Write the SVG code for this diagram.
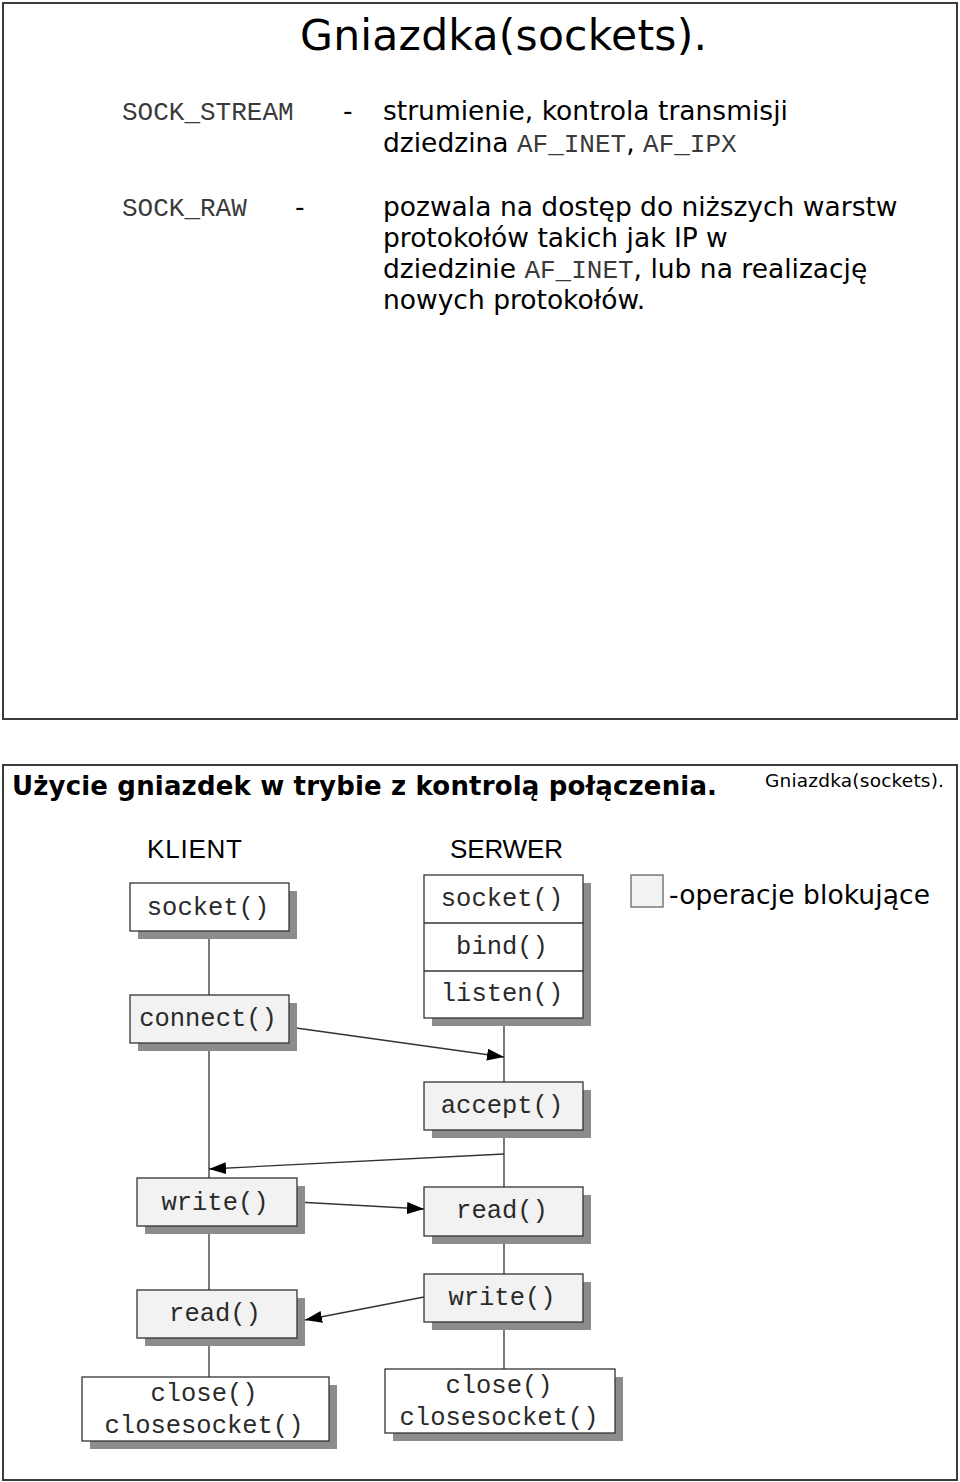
<svg xmlns="http://www.w3.org/2000/svg" width="960" height="1482" viewBox="0 0 960 1482">
<style>
.frame{fill:#fff;stroke:#3a3a3a;stroke-width:2}
.sans{font-family:"DejaVu Sans","Verdana",sans-serif;fill:#000}
.arial{font-family:"Liberation Sans",Arial,sans-serif;fill:#000}
.mono{font-family:"Liberation Mono","Courier New",monospace;fill:#3a3a3a}
.box{stroke:#333;stroke-width:1.3}
.w{fill:#fff}
.g{fill:#f2f2f2}
.sh{fill:#8c8c8c}
.ln{stroke:#333;stroke-width:1.3;fill:none}
.bt{font-family:"Liberation Mono","Courier New",monospace;font-size:25.5px;fill:#2a2a2a;text-anchor:middle}
</style>
<defs>
<marker id="ah" markerUnits="userSpaceOnUse" markerWidth="18" markerHeight="14" refX="17" refY="6" orient="auto">
<path d="M0,0 L17,6 L0,12 Z" fill="#000"/>
</marker>
</defs>

<rect class="frame" x="3" y="3" width="954" height="716"/>
<rect class="frame" x="3" y="765" width="954" height="715"/>

<g id="top-text">
<text class="sans" x="300" y="50" font-size="42.5" textLength="407">Gniazdka(sockets).</text>
<text class="mono" x="122" y="120" font-size="26">SOCK_STREAM</text>
<text class="sans" x="343" y="120" font-size="26.5">-</text>
<text class="sans" x="383" y="120" font-size="26.5">strumienie, kontrola transmisji</text>
<text class="sans" x="383" y="152" font-size="26.5">dziedzina <tspan class="mono" font-size="26">AF_INET</tspan>, <tspan class="mono" font-size="26">AF_IPX</tspan></text>
<text class="mono" x="122" y="216" font-size="26">SOCK_RAW</text>
<text class="sans" x="295" y="216" font-size="26.5">-</text>
<text class="sans" x="383" y="216" font-size="26.5">pozwala na dostęp do niższych warstw</text>
<text class="sans" x="383" y="247" font-size="26.5">protokołów takich jak IP w</text>
<text class="sans" x="383" y="278" font-size="26.5">dziedzinie <tspan class="mono" font-size="26">AF_INET</tspan>, lub na realizację</text>
<text class="sans" x="383" y="309" font-size="26.5">nowych protokołów.</text>
</g>

<g id="header">
<text class="sans" x="12" y="795" font-size="26" font-weight="bold" textLength="705">Użycie gniazdek w trybie z kontrolą połączenia.</text>
<text class="sans" x="765" y="787" font-size="18.5" textLength="179">Gniazdka(sockets).</text>
<text class="arial" x="147" y="858" font-size="26" textLength="95">KLIENT</text>
<text class="arial" x="450" y="858" font-size="26" textLength="113">SERWER</text>
</g>

<g id="legend">
<rect x="631" y="875" width="32" height="32" fill="#f2f2f2" stroke="#666" stroke-width="1.3"/>
<text class="sans" x="669" y="904" font-size="26.5" textLength="261">-operacje blokujące</text>
</g>

<g id="connectors">
<line class="ln" x1="209" y1="931" x2="209" y2="995"/>
<line class="ln" x1="209" y1="1043" x2="209" y2="1178"/>
<line class="ln" x1="209" y1="1226" x2="209" y2="1290"/>
<line class="ln" x1="209" y1="1338" x2="209" y2="1377"/>
<line class="ln" x1="504" y1="1018" x2="504" y2="1082"/>
<line class="ln" x1="504" y1="1130" x2="504" y2="1187"/>
<line class="ln" x1="504" y1="1236" x2="504" y2="1274"/>
<line class="ln" x1="504" y1="1322" x2="504" y2="1369"/>
<line class="ln" x1="289" y1="1027" x2="504" y2="1057" marker-end="url(#ah)"/>
<line class="ln" x1="504" y1="1154" x2="209" y2="1169" marker-end="url(#ah)"/>
<line class="ln" x1="297" y1="1202" x2="424" y2="1209" marker-end="url(#ah)"/>
<line class="ln" x1="424" y1="1297" x2="305" y2="1320" marker-end="url(#ah)"/>
</g>

<g id="client-socket">
<rect class="sh" x="138" y="891" width="159" height="48"/>
<rect class="box w" x="130" y="883" width="159" height="48"/>
<text class="bt" x="208" y="915">socket()</text>
</g>
<g id="client-connect">
<rect class="sh" x="138" y="1003" width="159" height="48"/>
<rect class="box g" x="130" y="995" width="159" height="48"/>
<text class="bt" x="208" y="1026">connect()</text>
</g>
<g id="client-write">
<rect class="sh" x="145" y="1186" width="160" height="48"/>
<rect class="box g" x="137" y="1178" width="160" height="48"/>
<text class="bt" x="215" y="1210">write()</text>
</g>
<g id="client-read">
<rect class="sh" x="145" y="1298" width="160" height="48"/>
<rect class="box g" x="137" y="1290" width="160" height="48"/>
<text class="bt" x="215" y="1321">read()</text>
</g>
<g id="client-close">
<rect class="sh" x="90" y="1385" width="247" height="64"/>
<rect class="box w" x="82" y="1377" width="247" height="64"/>
<text class="bt" x="204" y="1401">close()</text>
<text class="bt" x="204" y="1433">closesocket()</text>
</g>

<g id="server-setup">
<rect class="sh" x="432" y="883" width="159" height="143"/>
<rect class="box w" x="424" y="875" width="159" height="143"/>
<line class="ln" x1="424" y1="923" x2="583" y2="923"/>
<line class="ln" x1="424" y1="971" x2="583" y2="971"/>
<text class="bt" x="502" y="906">socket()</text>
<text class="bt" x="502" y="954">bind()</text>
<text class="bt" x="502" y="1001">listen()</text>
</g>
<g id="server-accept">
<rect class="sh" x="432" y="1090" width="159" height="48"/>
<rect class="box g" x="424" y="1082" width="159" height="48"/>
<text class="bt" x="502" y="1113">accept()</text>
</g>
<g id="server-read">
<rect class="sh" x="432" y="1195" width="159" height="49"/>
<rect class="box g" x="424" y="1187" width="159" height="49"/>
<text class="bt" x="502" y="1218">read()</text>
</g>
<g id="server-write">
<rect class="sh" x="432" y="1282" width="159" height="48"/>
<rect class="box g" x="424" y="1274" width="159" height="48"/>
<text class="bt" x="502" y="1305">write()</text>
</g>
<g id="server-close">
<rect class="sh" x="393" y="1377" width="230" height="64"/>
<rect class="box w" x="385" y="1369" width="230" height="64"/>
<text class="bt" x="499" y="1393">close()</text>
<text class="bt" x="499" y="1425">closesocket()</text>
</g>
</svg>
